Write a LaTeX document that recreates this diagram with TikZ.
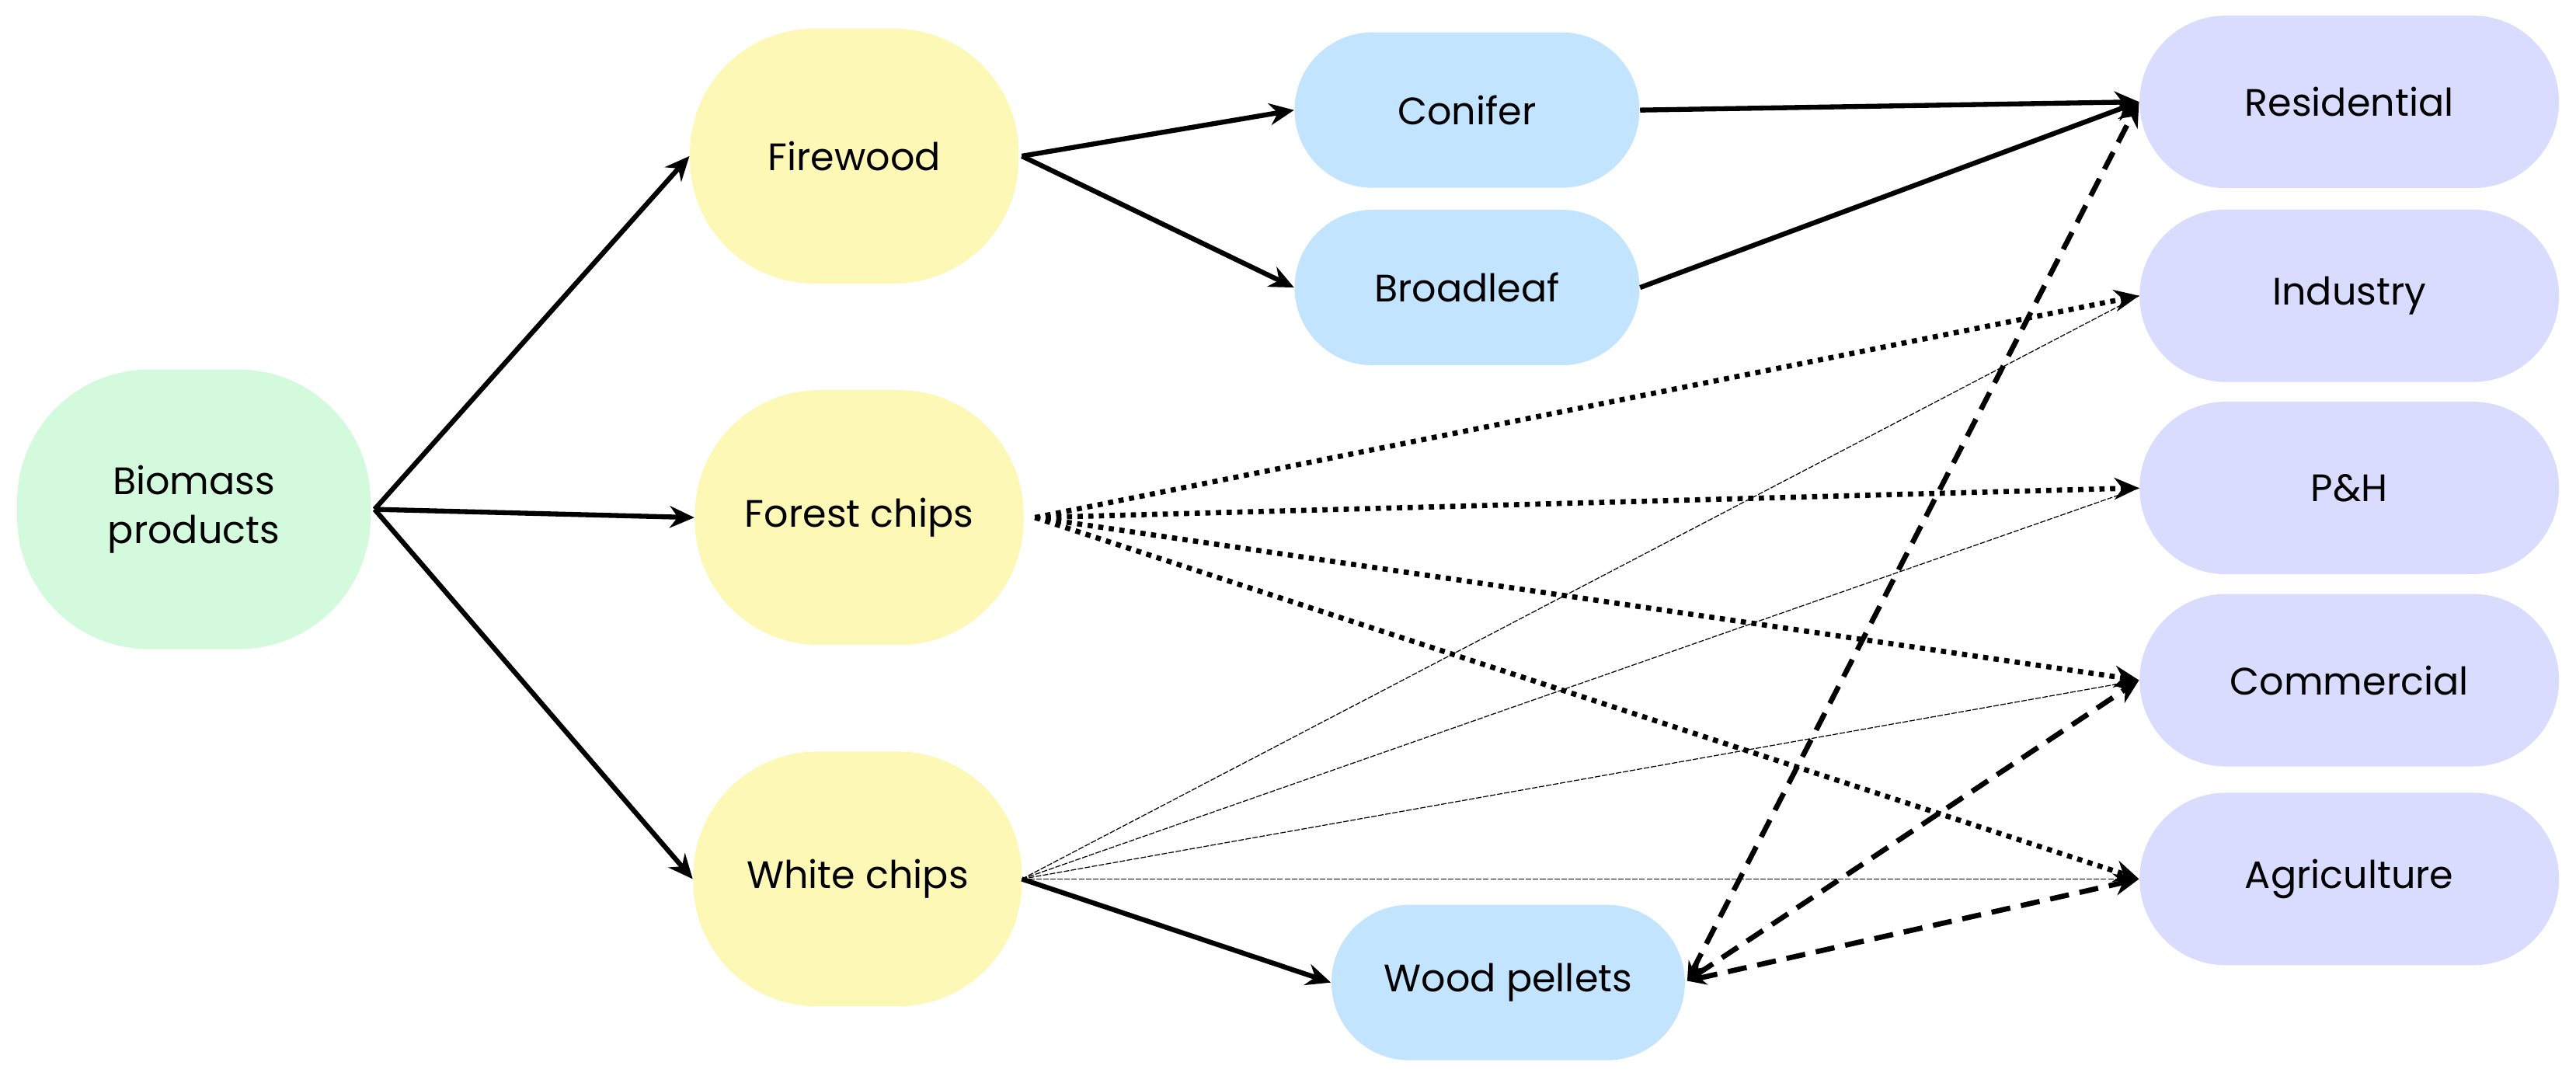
\documentclass[tikz,border=0pt]{standalone}
\usepackage{fontspec}
\setmainfont{Poppins}
\usetikzlibrary{arrows.meta}
\definecolor{cgreen}{HTML}{D4FADE}
\definecolor{cyellow}{HTML}{FDF8B5}
\definecolor{cblue}{HTML}{C2E4FF}
\definecolor{clav}{HTML}{D9DBFF}
\begin{document}
\begin{tikzpicture}[x=0.02115cm,y=-0.02115cm,
  box/.style={draw=none,rounded corners=#1,inner sep=0pt,align=center,font=\fontsize{14}{18}\selectfont},
  big/.style={box=1.6cm,fill=cyellow,minimum width=4.23cm,minimum height=3.28cm},
  mid/.style={box=1cm,fill=cblue,minimum width=4.44cm,minimum height=2.0cm},
  lav/.style={box=1.11cm,fill=clav,minimum width=5.4cm,minimum height=2.22cm},
  thick arr/.style={line width=1.8pt,-{Stealth[length=9pt,width=8pt]}},
  dot arr/.style={line width=1.9pt,dotted,-{Stealth[length=9pt,width=8pt]}},
  dash arr/.style={line width=1.9pt,dash pattern=on 7pt off 4pt,{Stealth[length=7pt,width=6pt]}-{Stealth[length=9pt,width=8pt]}},
  thin/.style={line width=0.35pt,dash pattern=on 2pt off 0.6pt}]
\useasboundingbox (0,0) rectangle (1568,659);
\node[box=1.7cm,fill=cgreen,minimum width=4.55cm,minimum height=3.6cm] (bio) at (118,310) {Biomass\\products};
\node[big] (fw) at (520,95) {Firewood};
\node[big] (fc) at (523,315) {Forest chips};
\node[big] (wc) at (522,535) {White chips};
\node[mid] (con) at (893,67) {Conifer};
\node[mid] (bro) at (893,175) {Broadleaf};
\node[mid,minimum width=4.55cm] (wp) at (918,598) {Wood pellets};
\node[lav] (res) at (1430,62) {Residential};
\node[lav] (ind) at (1430,180) {Industry};
\node[lav] (ph) at (1430,297) {P\&H};
\node[lav] (com) at (1430,414) {Commercial};
\node[lav] (agr) at (1430,535) {Agriculture};
\coordinate (bioE) at (228,310);
\coordinate (fwE) at (622,95);
\coordinate (fcE) at (630,315);
\coordinate (wcE) at (622,535);
\coordinate (wpE) at (1027,597);
\draw[thick arr] (bioE) -- (fw.west);
\draw[thick arr] (bioE) -- (fc.west);
\draw[thick arr] (bioE) -- (wc.west);
\draw[thick arr] (fwE) -- (con.west);
\draw[thick arr] (fwE) -- (bro.west);
\draw[thick arr] (con.east) -- (res.west);
\draw[thick arr] (bro.east) -- (res.west);
\draw[thick arr] (wcE) -- (wp.west);
\draw[dot arr] (fcE) -- (ind.west);
\draw[dot arr] (fcE) -- (ph.west);
\draw[dot arr] (fcE) -- (com.west);
\draw[dot arr] (fcE) -- (agr.west);
\draw[thin] (wcE) -- (ind.west);
\draw[thin] (wcE) -- (ph.west);
\draw[thin] (wcE) -- (com.west);
\draw[thin] (wcE) -- (agr.west);
\draw[dash arr] (wpE) -- (res.west);
\draw[dash arr] (wpE) -- (com.west);
\draw[dash arr] (wpE) -- (agr.west);
\end{tikzpicture}
\end{document}
